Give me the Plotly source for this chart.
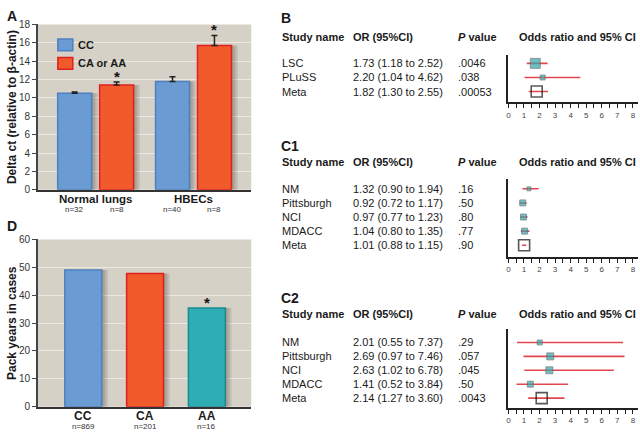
import plotly.graph_objects as go

FONT = "Liberation Sans, Arial, sans-serif"
W, H = 640, 436

# ---------------- Data ----------------
# Panel A
A_GROUPS = ["Normal lungs", "HBECs"]
A_CC = [10.5, 11.8]
A_CC_ERR = [0.15, 0.5]
A_VAR = [11.4, 15.7]
A_VAR_ERR = [0.35, 1.1]
A_N_CC = ["n=32", "n=40"]
A_N_VAR = ["n=8", "n=8"]
A_SIG_VAR = [True, True]
A_SERIES = ["CC", "CA or AA"]

# Panel D
D_GENOTYPES = ["CC", "CA", "AA"]
D_PACK_YEARS = [49.0, 47.8, 35.4]
D_N = ["n=869", "n=201", "n=16"]
D_SIG = [False, False, True]

# Panel B
B_STUDIES = ["LSC", "PLuSS", "Meta"]
B_OR = [1.73, 2.20, 1.82]
B_LO = [1.18, 1.04, 1.30]
B_HI = [2.52, 4.62, 2.55]
B_P = [".0046", ".038", ".00053"]

# Panel C1
C1_STUDIES = ["NM", "Pittsburgh", "NCI", "MDACC", "Meta"]
C1_OR = [1.32, 0.92, 0.97, 1.04, 1.01]
C1_LO = [0.90, 0.72, 0.77, 0.80, 0.88]
C1_HI = [1.94, 1.17, 1.23, 1.35, 1.15]
C1_P = [".16", ".50", ".80", ".77", ".90"]

# Panel C2
C2_STUDIES = ["NM", "Pittsburgh", "NCI", "MDACC", "Meta"]
C2_OR = [2.01, 2.69, 2.63, 1.41, 2.14]
C2_LO = [0.55, 0.97, 1.02, 0.52, 1.27]
C2_HI = [7.37, 7.46, 6.78, 3.84, 3.60]
C2_P = [".29", ".057", ".045", ".50", ".0043"]

FOREST_TICKS = [i * 0.5 for i in range(17)]

# ---------------- Styles ----------------
B_SIZES = [10, 5, 11]
C1_SIZES = [4, 6, 6, 6, 11]
C2_SIZES = [5, 7, 7, 6, 11]

BLUE, BLUE_EDGE = "#6a9bd3", "#4d80c0"
RED, RED_EDGE = "#f15a2b", "#e0201f"
TEAL, TEAL_EDGE = "#2eadb4", "#1b8a90"
BEIGE = "#d6d1c7"
GRID = "#ece9e3"
CI_RED = "#e2474f"
SQ_TEAL = "#2fa5aa"


def fx(p):
    return p / W


def fy(p):
    return 1 - p / H


fig = go.Figure()
ann = []
shapes = []


def txt(x, y, s, size=11, bold=False, xanchor="left", yanchor="middle",
        xref="paper", yref="paper", color="#1a1a1a", angle=0, yshift=0):
    if xref == "paper":
        x = fx(x)
    if yref == "paper":
        y = fy(y)
    ann.append(dict(x=x, y=y, xref=xref, yref=yref, text=(f"<b>{s}</b>" if bold else s),
                    showarrow=False, xanchor=xanchor, yanchor=yanchor, textangle=angle,
                    font=dict(family=FONT, size=size, color=color), yshift=yshift))


# ---------------- Panel A ----------------
A_X = list(range(len(A_GROUPS)))
A_UNIT = 98.0
A_BW = 34 / A_UNIT
A_HALF = 21 / A_UNIT


def shadow(xs, ys, off, bw, unit, xa, ya):
    for k in (1, 2, 3, 4):
        fig.add_trace(go.Bar(x=xs, y=ys, width=bw, offset=off + k * 1.6 / unit,
                             marker=dict(color="rgba(60,50,40,0.10)", line=dict(width=0)),
                             hoverinfo="skip", showlegend=False, xaxis=xa, yaxis=ya))


shadow(A_X, A_CC, -A_HALF - A_BW / 2, A_BW, A_UNIT, "x", "y")
shadow(A_X, A_VAR, A_HALF - A_BW / 2, A_BW, A_UNIT, "x", "y")

fig.add_trace(go.Bar(
    x=A_X, y=A_CC, width=A_BW, offset=-A_HALF - A_BW / 2, name=A_SERIES[0],
    marker=dict(color=BLUE, line=dict(color=BLUE_EDGE, width=1.5)),
    error_y=dict(type="data", symmetric=False, array=A_CC_ERR, arrayminus=[0] * len(A_CC),
                 color="#222", thickness=1.5, width=3),
    xaxis="x", yaxis="y"))
fig.add_trace(go.Bar(
    x=A_X, y=A_VAR, width=A_BW, offset=A_HALF - A_BW / 2, name=A_SERIES[1],
    marker=dict(color=RED, line=dict(color=RED_EDGE, width=1.5)),
    error_y=dict(type="data", symmetric=False, array=A_VAR_ERR, arrayminus=[0] * len(A_VAR),
                 color="#222", thickness=1.5, width=3),
    xaxis="x", yaxis="y"))

for i, g in enumerate(A_GROUPS):
    txt(i, 198, g, size=11.5, bold=True, xanchor="center", xref="x")
    txt(i - A_HALF, 209, A_N_CC[i], size=8, xanchor="center", xref="x", color="#333")
    txt(i + A_HALF, 209, A_N_VAR[i], size=8, xanchor="center", xref="x", color="#333")
    if A_SIG_VAR[i]:
        txt(i + A_HALF, A_VAR[i] + A_VAR_ERR[i], "*", size=15, bold=True, xanchor="center",
            yanchor="bottom", xref="x", yref="y", color="#111", yshift=-5)

shapes.append(dict(type="rect", xref="x domain", yref="y domain", x0=0, x1=1, y0=0, y1=1,
                   fillcolor=BEIGE, line=dict(width=0), layer="below"))
# legend swatches
for k, (col, edge) in enumerate([(BLUE, BLUE_EDGE), (RED, RED_EDGE)]):
    y0 = 34 + k * 19
    shapes.append(dict(type="rect", xref="paper", yref="paper", x0=fx(56), x1=fx(71),
                       y0=fy(y0 + 12), y1=fy(y0), fillcolor=col, line=dict(color=edge, width=1.5)))
    txt(74, y0 + 6, A_SERIES[k], size=11, bold=True)

txt(10, 104, "Delta ct (relative to β-actin)", size=12, bold=True, xanchor="center", angle=-90)
txt(3, 10, "A", size=14, bold=True)

# ---------------- Panel D ----------------
D_X = list(range(len(D_GENOTYPES)))
D_UNIT = 62.0
D_BW = 37 / D_UNIT
D_COLS = [(BLUE, BLUE_EDGE), (RED, RED_EDGE), (TEAL, TEAL_EDGE)]
shadow(D_X, D_PACK_YEARS, -D_BW / 2, D_BW, D_UNIT, "x2", "y2")
fig.add_trace(go.Bar(
    x=D_X, y=D_PACK_YEARS, width=D_BW, offset=-D_BW / 2,
    marker=dict(color=[c[0] for c in D_COLS], line=dict(color=[c[1] for c in D_COLS], width=1.5)),
    xaxis="x2", yaxis="y2", showlegend=False))
for i, g in enumerate(D_GENOTYPES):
    txt(i, 422, g, size=12, bold=True, xanchor="center", xref="x2")
    txt(i, 432, D_N[i], size=8, xanchor="center", xref="x2", color="#333")
    if D_SIG[i]:
        txt(i, D_PACK_YEARS[i], "*", size=15, bold=True, xanchor="center", yanchor="bottom",
            xref="x2", yref="y2", color="#111", yshift=-5)
shapes.append(dict(type="rect", xref="x2 domain", yref="y2 domain", x0=0, x1=1, y0=0, y1=1,
                   fillcolor=BEIGE, line=dict(width=0), layer="below"))
txt(10, 326, "Pack years in cases", size=12, bold=True, xanchor="center", angle=-90)
txt(3, 226, "D", size=14, bold=True)


# ---------------- Forest panels ----------------
def forest(idx, label, studies, ors, lo, hi, pvals, sizes, label_y, header_y):
    xa, ya = f"x{idx}", f"y{idx}"
    rows = list(range(len(studies)))
    ind = [i for i, s in enumerate(studies) if s != "Meta"]
    met = [i for i, s in enumerate(studies) if s == "Meta"]
    for sel, meta in ((ind, False), (met, True)):
        fig.add_trace(go.Scatter(
            x=[ors[i] for i in sel], y=[rows[i] for i in sel], mode="markers",
            error_x=dict(type="data", symmetric=False,
                         array=[hi[i] - ors[i] for i in sel],
                         arrayminus=[ors[i] - lo[i] for i in sel],
                         color=CI_RED, thickness=1.6, width=0),
            marker=dict(symbol="square-open" if meta else "square",
                        size=[sizes[i] for i in sel],
                        color="#111" if meta else SQ_TEAL,
                        line=dict(color="#111" if meta else "#555", width=1.6 if meta else 0.8)),
            xaxis=xa, yaxis=ya, showlegend=False, hoverinfo="skip"))
    for i, s in enumerate(studies):
        txt(279, rows[i], s, size=11, xref="paper", yref=ya)
        txt(350, rows[i], f"{ors[i]:.2f} ({lo[i]:.2f} to {hi[i]:.2f})", size=11, yref=ya)
        txt(455, rows[i], pvals[i], size=11, yref=ya)
    txt(279, header_y, "Study name", size=11, bold=True)
    txt(350, header_y, "OR (95%CI)", size=11, bold=True)
    txt(455, header_y, "<i>P</i> value", size=11, bold=True)
    txt(577, header_y, "Odds ratio and 95% CI", size=11, bold=True, xanchor="center")
    txt(278, label_y, label, size=14, bold=True)


forest(3, "B", B_STUDIES, B_OR, B_LO, B_HI, B_P, B_SIZES, 12, 32)
forest(4, "C1", C1_STUDIES, C1_OR, C1_LO, C1_HI, C1_P, C1_SIZES, 144, 160)
forest(5, "C2", C2_STUDIES, C2_OR, C2_LO, C2_HI, C2_P, C2_SIZES, 300, 317)


def yrange(top, bot, r0, step):
    return [(bot - r0) / step, (top - r0) / step]


layout = dict(
    width=W, height=H, margin=dict(l=0, r=0, t=0, b=0),
    paper_bgcolor="white", plot_bgcolor="white", showlegend=False, barmode="overlay",
    font=dict(family=FONT, color="#222"),
    annotations=ann, shapes=shapes,
)

layout["xaxis"] = dict(domain=[fx(36), fx(250)], range=[-0.59, 1.59], anchor="y",
                       showticklabels=False, ticks="", showgrid=False, zeroline=False,
                       showline=True, linecolor="#333", linewidth=2)
layout["yaxis"] = dict(domain=[fy(189), fy(19)], range=[0, 18], dtick=2, anchor="x",
                       showgrid=True, gridcolor=GRID, gridwidth=1, zeroline=False,
                       showline=True, linecolor="#444", linewidth=1.5,
                       ticks="outside", ticklen=4, tickcolor="#444",
                       tickfont=dict(size=10, color="#333"))
layout["xaxis2"] = dict(domain=[fx(36), fx(250)], range=[-0.734, 2.718], anchor="y2",
                        showticklabels=False, ticks="", showgrid=False, zeroline=False,
                        showline=True, linecolor="#333", linewidth=2)
layout["yaxis2"] = dict(domain=[fy(412), fy(240)], range=[0, 60], dtick=10, anchor="x2",
                        showgrid=True, gridcolor=GRID, gridwidth=1, zeroline=False,
                        showline=True, linecolor="#444", linewidth=1.5,
                        ticks="outside", ticklen=4, tickcolor="#444",
                        tickfont=dict(size=10, color="#333"))

forest_geo = {3: (50, 99, 59, 14.5), 4: (178, 258, 188, 14.5), 5: (332, 413, 346, 14.3)}
for k, (top, bot, r0, step) in forest_geo.items():
    layout[f"xaxis{k}"] = dict(domain=[fx(508), fx(638)], range=[0, 8.33], anchor=f"y{k}",
                               tickvals=FOREST_TICKS,
                               ticktext=[str(int(v)) if v == int(v) else "" for v in FOREST_TICKS],
                               ticks="outside", ticklen=4, tickwidth=1, tickcolor="#222",
                               tickfont=dict(size=8, color="#444"),
                               showgrid=False, zeroline=False,
                               showline=True, linecolor="#222", linewidth=2)
    layout[f"yaxis{k}"] = dict(domain=[fy(bot), fy(top)], range=yrange(top, bot, r0, step),
                               anchor=f"x{k}", showticklabels=False, ticks="", showgrid=False,
                               zeroline=False, showline=True, linecolor="#222", linewidth=1.5)

fig.update_layout(**layout)
fig.write_html("out.html", config={"displayModeBar": False},
               post_script="document.body.style.margin='0';document.body.style.overflow='hidden';")
